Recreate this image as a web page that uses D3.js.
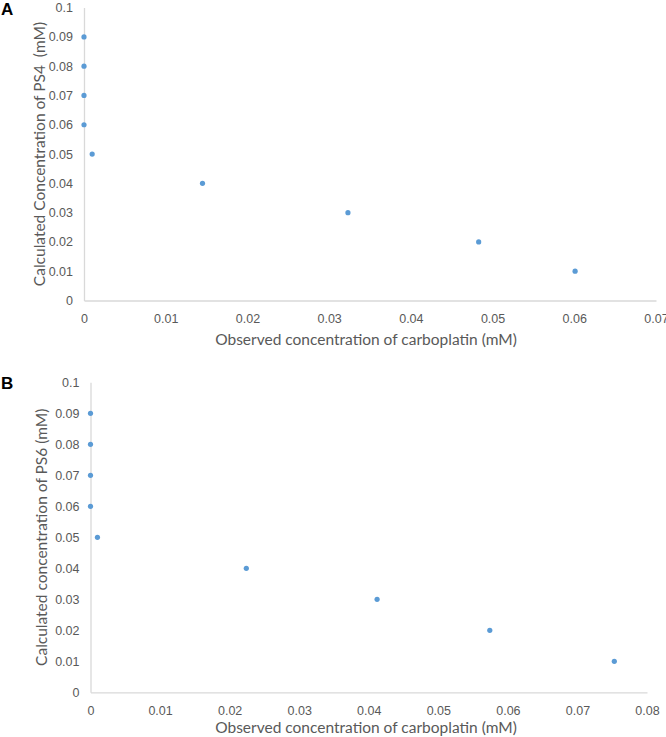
<!DOCTYPE html>
<html>
<head>
<meta charset="utf-8">
<script src="https://cdn.jsdelivr.net/npm/d3@7"></script>
<style>
	body { margin: 0; background: #fff; }
	svg { font-family: Lato, "Open Sans", sans-serif; }
</style>
</head>
<body>
<svg id="chart" width="666" height="737"></svg>
<script>
// panel A: PS4 vs carboplatin
var xA = [0, 0, 0, 0, 0.001, 0.0145, 0.0323, 0.0483, 0.0601]
var yA = [0.09, 0.08, 0.07, 0.06, 0.05, 0.04, 0.03, 0.02, 0.01]
var xTicksA = [0, 0.01, 0.02, 0.03, 0.04, 0.05, 0.06, 0.07]

// panel B: PS6 vs carboplatin
var xB = [0, 0, 0, 0, 0.001, 0.0224, 0.0412, 0.0574, 0.0753]
var yB = [0.09, 0.08, 0.07, 0.06, 0.05, 0.04, 0.03, 0.02, 0.01]
var xTicksB = [0, 0.01, 0.02, 0.03, 0.04, 0.05, 0.06, 0.07, 0.08]

var yTicks = [0, 0.01, 0.02, 0.03, 0.04, 0.05, 0.06, 0.07, 0.08, 0.09, 0.1]

var xTitle = "Observed concentration of carboplatin (mM)"

var svg = d3.select("#chart")

/*
 * draws one scatter panel
 * box: pixel edges of the plot area, letter: panel label
 */
function panel(box, xs, ys, xTicks, yTitle, letter) {
	var x = d3.scaleLinear()
		.domain([0, xTicks[xTicks.length - 1]])
		.range([box.left, box.right])
	var y = d3.scaleLinear()
		.domain([0, 0.1])
		.range([box.bottom, box.top])

	var g = svg.append("g")

	// axis lines only, no tick marks
	g.append("g")
		.attr("transform", "translate(0," + box.bottom + ")")
		.call(d3.axisBottom(x).tickValues(xTicks).tickSize(0).tickPadding(14)
			.tickFormat(function(d) { return d3.format("~g")(d) }))
		.call(function(a) {
			a.select(".domain").attr("stroke", "#d9d9d9").attr("stroke-width", 1.3)
			a.selectAll("text").attr("fill", "#595959").style("font-size", "12.5px")
		})

	g.append("g")
		.attr("transform", "translate(" + box.left + ",0)")
		.call(d3.axisLeft(y).tickValues(yTicks).tickSize(0).tickPadding(11)
			.tickFormat(function(d) { return d3.format("~g")(d) }))
		.call(function(a) {
			a.select(".domain").attr("stroke", "#d9d9d9").attr("stroke-width", 1.3)
			a.selectAll("text").attr("fill", "#595959").style("font-size", "12.5px")
		})

	g.selectAll("circle")
		.data(xs)
		.enter()
		.append("circle")
		.attr("cx", function(d) { return x(d) })
		.attr("cy", function(d, i) { return y(ys[i]) })
		.attr("r", 2.6)
		.attr("fill", "#5b9bd5")

	g.append("text")
		.attr("text-anchor", "middle")
		.attr("x", 366)
		.attr("y", box.titleY)
		.attr("fill", "#595959")
		.style("font-size", "15.5px")
		.text(xTitle)

	g.append("text")
		.attr("text-anchor", "middle")
		.attr("transform", "translate(" + box.titleX + "," + ((box.top + box.bottom) / 2) + ") rotate(-90)")
		.attr("fill", "#595959")
		.style("font-size", "15.5px")
		.style("white-space", "pre")
		.text(yTitle)

	g.append("text")
		.attr("x", 1)
		.attr("y", box.top + 7)
		.attr("fill", "#000")
		.style("font-family", "'Liberation Sans', Arial, sans-serif")
		.style("font-weight", "bold")
		.style("font-size", "17px")
		.text(letter)
}

panel({left: 84, right: 656, top: 7.6, bottom: 300.5, titleX: 45, titleY: 345},
	xA, yA, xTicksA, "Calculated Concentration of PS4  (mM)", "A")
panel({left: 90.5, right: 647, top: 382.3, bottom: 692.3, titleX: 47, titleY: 733},
	xB, yB, xTicksB, "Calculated concentration of PS6 (mM)", "B")
</script>
</body>
</html>
